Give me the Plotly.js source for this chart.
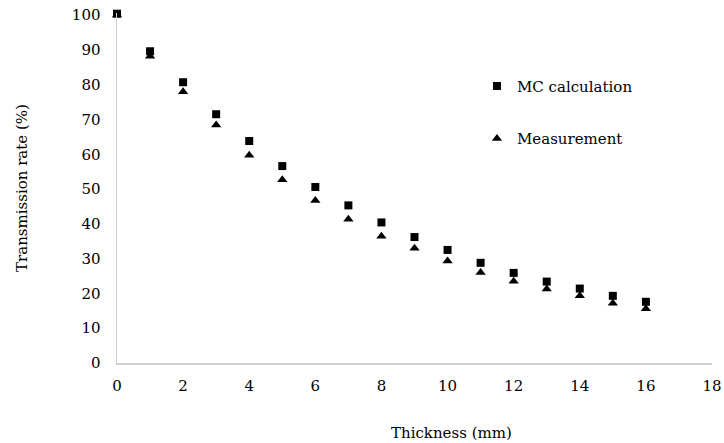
<!DOCTYPE html>
<html>
<head>
<meta charset="utf-8">
<script src="https://cdn.plot.ly/plotly-3.0.1.min.js"></script>
<style>html,body{margin:0;padding:0;background:#fff;}#chart{width:724px;height:443px;}</style>
</head>
<body>
<div id="chart"></div>
<script>
const thickness = [0, 1, 2, 3, 4, 5, 6, 7, 8, 9, 10, 11, 12, 13, 14, 15, 16];
const mcCalculation = [100.4, 89.6, 80.7, 71.5, 63.8, 56.6, 50.6, 45.3, 40.4, 36.2, 32.5, 28.8, 25.9, 23.4, 21.4, 19.3, 17.6];
const measurement = [100, 88.2, 78.0, 68.4, 59.7, 52.7, 46.7, 41.3, 36.4, 33.0, 29.3, 26.0, 23.5, 21.3, 19.3, 17.2, 15.6];
const xTicks = [0, 2, 4, 6, 8, 10, 12, 14, 16, 18];
const yTicks = [0, 10, 20, 30, 40, 50, 60, 70, 80, 90, 100];

const font = "DejaVu Serif, Liberation Serif, serif";

const traces = [
  {
    x: thickness, y: measurement, type: 'scatter', mode: 'markers',
    name: 'Measurement', legendgroup: 'b', legendrank: 2, cliponaxis: false,
    marker: {symbol: 'triangle-up', size: 9, color: '#000000'}
  },
  {
    x: thickness, y: mcCalculation, type: 'scatter', mode: 'markers',
    name: 'MC calculation', legendgroup: 'a', legendrank: 1, cliponaxis: false,
    marker: {symbol: 'square', size: 8, color: '#000000'}
  }
];

const layout = {
  width: 724, height: 443,
  margin: {l: 117, r: 12, t: 13, b: 80},
  paper_bgcolor: '#ffffff', plot_bgcolor: '#ffffff',
  font: {family: font, size: 14, color: '#000000'},
  showlegend: true,
  legend: {
    x: 0.605, y: 0.838, xanchor: 'left', yanchor: 'top',
    bgcolor: 'rgba(0,0,0,0)', traceorder: 'grouped', tracegroupgap: 30,
    font: {family: font, size: 15}, itemwidth: 30
  },
  xaxis: {
    range: [0, 18], tickvals: xTicks, ticktext: xTicks.map(String),
    showgrid: false, zeroline: false, showline: true, linecolor: '#d0d0d0', linewidth: 1.5,
    ticks: '', ticklabelstandoff: 8, tickfont: {family: font, size: 15}
  },
  yaxis: {
    range: [0, 100.6], tickvals: yTicks, ticktext: yTicks.map(String),
    showgrid: false, zeroline: false, showline: true, linecolor: '#d0d0d0', linewidth: 1.5,
    ticks: '', ticklabelstandoff: 12, tickfont: {family: font, size: 15},
    title: {text: 'Transmission rate (%)', font: {family: font, size: 15}, standoff: 40}
  },
  annotations: [
    {text: 'Thickness (mm)', xref: 'paper', yref: 'paper', x: 0.5616, y: 0, yshift: -70,
     xanchor: 'center', yanchor: 'middle', showarrow: false, font: {family: font, size: 15}}
  ]
};

Plotly.newPlot('chart', traces, layout, {displayModeBar: false, staticPlot: true});
</script>
</body>
</html>
